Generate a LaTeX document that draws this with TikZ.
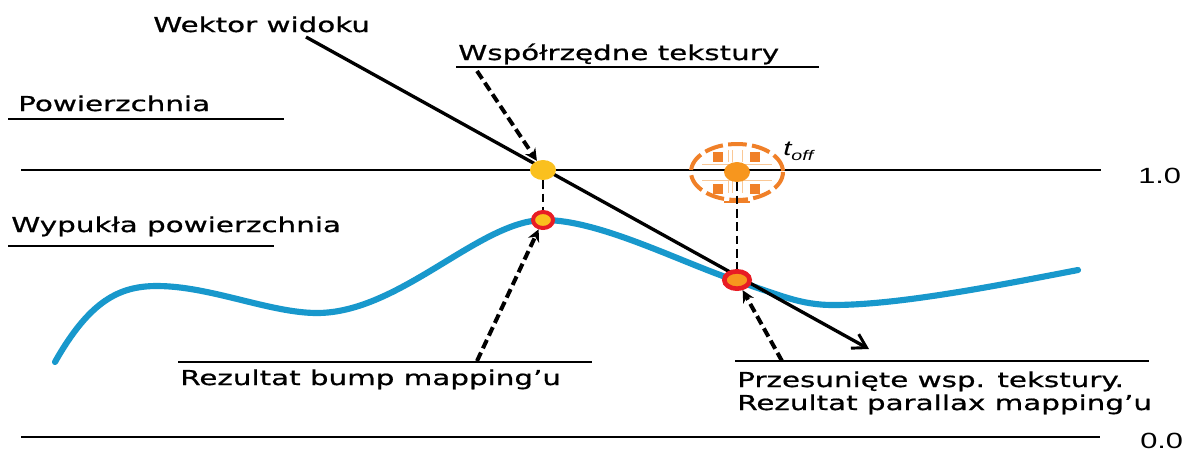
\documentclass[tikz,border=0pt]{standalone}
\usepackage{fontspec}
\newfontfamily\labelfont[FakeStretch=1.43,FakeBold=0.8]{DejaVu Sans}
\newfontfamily\numfont[FakeStretch=1.4]{Liberation Sans}
\usetikzlibrary{arrows.meta,shapes.geometric}
\definecolor{surfblue}{RGB}{24,152,204}
\definecolor{dotyellow}{RGB}{250,192,30}
\definecolor{dotorange}{RGB}{247,150,30}
\definecolor{ringred}{RGB}{232,28,36}
\definecolor{targetorange}{RGB}{240,128,40}
\definecolor{paleorange}{RGB}{250,200,150}

\begin{document}
\begin{tikzpicture}[x=0.75pt,y=-0.75pt,
  lbl/.style={inner sep=0pt, anchor=base west, font=\labelfont\fontsize{15.4}{18}\selectfont},
  num/.style={inner sep=0pt, anchor=base west, font=\numfont\fontsize{16.5}{20}\selectfont},
  rule/.style={line width=2.2pt},
  underline/.style={line width=2.2pt},
  viewvec/.style={line width=2.5pt, -{Straight Barb[length=10pt,width=12pt,line width=2.2pt]}},
  guide/.style={line width=2.2pt, dash pattern=on 6.5pt off 3.5pt},
  pointer/.style={line width=3pt, dash pattern=on 7pt off 3.5pt, -{Stealth[length=9pt,width=9pt]}},
  plaindot/.style={ellipse, inner sep=0pt, minimum width=19.5pt, minimum height=15pt},
  ringdot/.style={ellipse, inner sep=0pt, draw=ringred, line width=3pt, minimum width=15pt, minimum height=12pt},
  bigringdot/.style={ringdot, line width=3.5pt, minimum width=19pt, minimum height=13pt},
  tsquare/.style={fill=targetorange, minimum size=7.5pt, inner sep=0pt},
]
\useasboundingbox[fill=white] (0,0) rectangle (1195,451);

% reference levels
\draw[rule] (21,170) -- (1101,170);
\draw[rule] (21,437) -- (1100,437);
\node[num] (one)  at (1138,183) {1.0};
\node[num] (zero) at (1140,448) {0.0};

% labels with their underlines
\node[lbl] (view) at (153,32) {Wektor widoku};
\node[lbl] (tex) at (458,60) {Współrzędne tekstury};
\draw[underline] (456,67) -- (819,67);
\node[lbl] (surf) at (18,111) {Powierzchnia};
\draw[underline] (8,119) -- (284,119);
\node[lbl] (bumpy) at (11,232) {Wypukła powierzchnia};
\draw[underline] (8,246) -- (274,246);
\draw[underline] (178,362) -- (592,362);
\node[lbl] (bumpres) at (180,385) {Rezultat bump mapping’u};
\draw[underline] (735,361) -- (1149,361);
\node[lbl] (shifted) at (737,387) {Przesunięte wsp. tekstury.};
\node[lbl] (parres) at (737,410) {Rezultat parallax mapping’u};

% bumped surface
\draw[surfblue, line width=4.6pt, line cap=round]
  (55,362) .. controls (90,300) and (120,286) .. (157,286)
           .. controls (210,286) and (270,313) .. (317,313)
           .. controls (400,313) and (480,220) .. (544,220)
           .. controls (600,220) and (680,262) .. (737,281)
           .. controls (780,295) and (800,305) .. (833,305)
           .. controls (900,305) and (1000,285) .. (1078,270);

% offset target marker
\draw[targetorange, line width=3pt, dash pattern=on 14pt off 4pt] (737,172) ellipse [x radius=46, y radius=28];
\foreach \px/\py in {728/150, 732/150, 742/150, 728/181, 732/181, 742/181}
  \draw[paleorange, line width=0.6pt] (\px,\py) -- (\px,\py+12);
\draw[paleorange, line width=0.6pt] (702,164) -- (772,164);
\draw[paleorange, line width=0.6pt] (702,180) -- (772,180);
\node[tsquare] (sq1) at (718,157) {};
\node[tsquare] (sq2) at (755,157) {};
\node[tsquare] (sq3) at (718,189) {};
\node[tsquare] (sq4) at (755,189) {};
\draw[targetorange, line width=2pt] (724,202) -- (750,202);
\node[inner sep=0pt, anchor=base west, font=\numfont\itshape\fontsize{15.7}{18}\selectfont] (toff) at (783,155)
  {t\raisebox{-4pt}{\fontsize{10.5}{12}\selectfont off}};

% view vector
\coordinate (vstart) at (306,37);
\coordinate (vend) at (869,349);
\draw[viewvec] (vstart) -- (vend);

% sample points
\node[plaindot, fill=dotyellow] (top) at (543,170) {};
\node[ringdot, fill=dotyellow] (bump) at (543,220) {};
\node[plaindot, fill=dotorange] (off) at (737,172) {};
\node[bigringdot, fill=dotorange] (par) at (737,280) {};

% projections and pointers
\draw[guide] (top) -- (bump);
\draw[guide] (off) -- (par);
\coordinate (texfoot) at (477,71);
\coordinate (bumpfoot) at (477,361);
\coordinate (parfoot) at (782,361);
\draw[pointer] (texfoot) -- (top);
\draw[pointer] (bumpfoot) -- (bump);
\draw[pointer] (parfoot) -- (par);
\end{tikzpicture}
\end{document}
